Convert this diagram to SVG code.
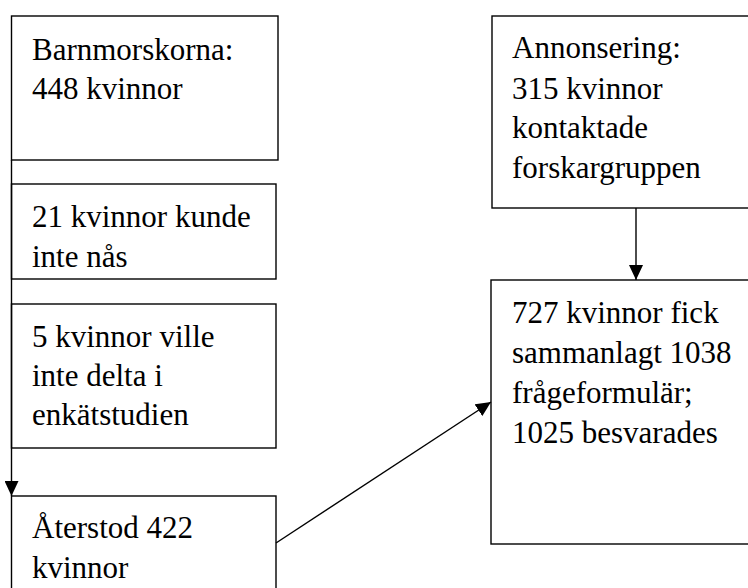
<svg xmlns="http://www.w3.org/2000/svg" width="748" height="588" viewBox="0 0 748 588">
<style>
rect{fill:#fff;stroke:#000;stroke-width:1.4}
text{font-family:"Liberation Serif","Times New Roman",serif;font-size:31px;fill:#000}
.c{stroke:#000;stroke-width:1.4;fill:none}
</style>
<defs>
<marker id="ah" markerWidth="15" markerHeight="14" refX="15" refY="7" orient="auto" markerUnits="userSpaceOnUse">
<path d="M0,0 L15,7 L0,14 Z" fill="#000"/>
</marker>
</defs>
<g id="n1"><rect x="11.5" y="16" width="266.5" height="144"/>
<text x="32" y="60">Barnmorskorna:</text><text x="32" y="99">448 kvinnor</text></g>
<g id="n2"><rect x="11.5" y="184" width="264.5" height="95"/>
<text x="32" y="227">21 kvinnor kunde</text><text x="32" y="267">inte nås</text></g>
<g id="n3"><rect x="11.5" y="304" width="264.5" height="144"/>
<text x="32" y="347">5 kvinnor ville</text><text x="32" y="386">inte delta i</text><text x="32" y="425">enkätstudien</text></g>
<g id="n4"><rect x="11.5" y="496" width="264.5" height="120"/>
<text x="32" y="538">Återstod 422</text><text x="32" y="578">kvinnor</text></g>
<g id="n5"><rect x="492" y="16" width="270" height="192"/>
<text x="512" y="58">Annonsering:</text><text x="512" y="99">315 kvinnor</text><text x="512" y="138">kontaktade</text><text x="512" y="178">forskargruppen</text></g>
<g id="n6"><rect x="491" y="280" width="270" height="264"/>
<text x="512" y="323">727 kvinnor fick</text><text x="512" y="363">sammanlagt 1038</text><text x="512" y="403">frågeformulär;</text><text x="512" y="443">1025 besvarades</text></g>
<g id="connectors">
<line class="c" x1="11.5" y1="160" x2="11.5" y2="496" marker-end="url(#ah)"/>
<line class="c" x1="636" y1="208" x2="636" y2="280" marker-end="url(#ah)"/>
<line class="c" x1="276" y1="543" x2="491" y2="402" marker-end="url(#ah)"/>
</g>
</svg>
